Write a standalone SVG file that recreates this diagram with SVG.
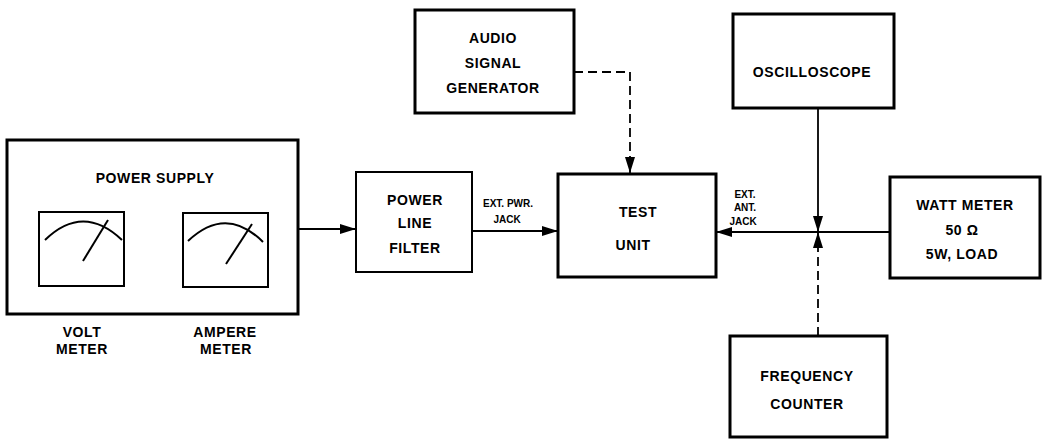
<svg xmlns="http://www.w3.org/2000/svg" width="1042" height="439" viewBox="0 0 1042 439">
<style>
.box{fill:#fff;stroke:#000;stroke-width:3}
.thin{fill:#fff;stroke:#000;stroke-width:2}
.t{font-family:"Liberation Sans",Arial,sans-serif;font-weight:bold;font-size:14px;text-anchor:middle;fill:#000;letter-spacing:0.6px}
.s{font-family:"Liberation Sans",Arial,sans-serif;font-weight:bold;font-size:10px;text-anchor:middle;fill:#000}
.c{fill:none;stroke:#000;stroke-width:1.8}
.d{stroke-dasharray:9 5}
.g{fill:none;stroke:#000;stroke-width:2}
</style>
<defs>
<marker id="arr" markerWidth="16" markerHeight="10" refX="16" refY="5" orient="auto" markerUnits="userSpaceOnUse"><path d="M0,0 L16,5 L0,10 z" fill="#000"/></marker>
</defs>
<rect width="1042" height="439" fill="#fff"/>
<g id="connectors">
<path class="c" d="M298,229 H356" marker-end="url(#arr)"/>
<path class="c" d="M472,231 H558" marker-end="url(#arr)"/>
<path class="c d" d="M574,72 H630 V173" marker-end="url(#arr)"/>
<path class="c" d="M890,232 H716" marker-end="url(#arr)"/>
<path class="c" d="M818,108 V232" marker-end="url(#arr)"/>
<path class="c d" d="M818,336 V232" marker-end="url(#arr)"/>
</g>
<g id="power-supply">
<rect class="box" x="7" y="140" width="291" height="174"/>
<text class="t" x="155" y="183">POWER SUPPLY</text>
<rect class="thin" x="39" y="212" width="85" height="74"/>
<path class="g" d="M45,240 Q83,203 122,240"/>
<path class="g" d="M83,261 L108,220"/>
<rect class="thin" x="183" y="213" width="85" height="74"/>
<path class="g" d="M188,241 Q226,205 263,242"/>
<path class="g" d="M226,264 L252,224"/>
<text class="t" x="82" y="337">VOLT</text>
<text class="t" x="82" y="354">METER</text>
<text class="t" x="225" y="337">AMPERE</text>
<text class="t" x="226" y="354">METER</text>
</g>
<g id="power-line-filter">
<rect class="thin" x="356" y="172" width="116" height="100"/>
<text class="t" x="415" y="205">POWER</text>
<text class="t" x="415" y="228">LINE</text>
<text class="t" x="415" y="253">FILTER</text>
</g>
<g id="ext-pwr-label">
<text class="s" x="508" y="207">EXT. PWR.</text>
<text class="s" x="507" y="223">JACK</text>
</g>
<g id="audio-signal-generator">
<rect class="box" x="415" y="10" width="159" height="103"/>
<text class="t" x="493" y="43">AUDIO</text>
<text class="t" x="493" y="68">SIGNAL</text>
<text class="t" x="493" y="93">GENERATOR</text>
</g>
<g id="test-unit">
<rect class="box" x="558" y="174" width="158" height="103"/>
<text class="t" x="638" y="217">TEST</text>
<text class="t" x="633" y="250">UNIT</text>
</g>
<g id="ext-ant-label">
<text class="s" x="745" y="198">EXT.</text>
<text class="s" x="745" y="211">ANT.</text>
<text class="s" x="743" y="225">JACK</text>
</g>
<g id="oscilloscope">
<rect class="box" x="733" y="14" width="161" height="94"/>
<text class="t" x="812" y="77">OSCILLOSCOPE</text>
</g>
<g id="watt-meter">
<rect class="box" x="890" y="177" width="150" height="101"/>
<text class="t" x="965" y="210">WATT METER</text>
<text class="t" x="962" y="235">50 Ω</text>
<text class="t" x="962" y="259">5W, LOAD</text>
</g>
<g id="frequency-counter">
<rect class="box" x="730" y="336" width="157" height="101"/>
<text class="t" x="807" y="381">FREQUENCY</text>
<text class="t" x="807" y="409">COUNTER</text>
</g>
</svg>
